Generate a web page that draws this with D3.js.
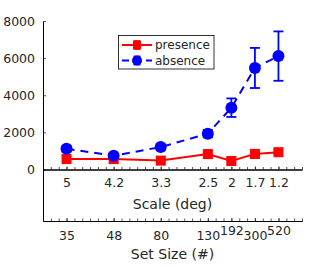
<!DOCTYPE html>
<html>
<head>
<meta charset="utf-8">
<script src="https://cdn.jsdelivr.net/npm/d3@7"></script>
<style>
  body { margin: 0; background: #fff; }
  text { font-family: "DejaVu Sans", sans-serif; fill: #262626; }
</style>
</head>
<body>
<svg id="chart" width="334" height="267"></svg>
<script>
    // data
    const xPos = [1, 2, 3, 4, 4.5, 5, 5.5];
    const scaleLabels = ["5", "4.2", "3.3", "2.5", "2", "1.7", "1.2"];
    const setSizeLabels = ["35", "48", "80", "130", "192", "300", "520"];
    const presence = [560, 560, 480, 830, 460, 840, 930];
    const presenceErr = [80, 80, 80, 100, 80, 100, 100];
    const absence = [1120, 740, 1210, 1930, 3330, 5470, 6110];
    const absenceErr = [150, 120, 150, 200, 500, 1080, 1330];
    const yTicks = [0, 2000, 4000, 6000, 8000];

    const svg = d3.select("#chart");
    const plotLeft = 43, plotRight = 302, plotTop = 21, zeroY = 169.5, bottomY = 221;

    const x = d3.scaleLinear().domain([0.5, 6]).range([plotLeft, plotRight]);
    // y axis continues down to the second (set size) axis
    const yLow = -8000 * (bottomY - zeroY) / (zeroY - plotTop);
    const y = d3.scaleLinear().domain([yLow, 8000]).range([bottomY, plotTop]);

    const minor = d3.range(0, 34).map(k => 0.5 + k / 6);

    // y axis
    svg.append("g")
        .attr("transform", "translate(" + plotLeft + ",0)")
        .call(d3.axisLeft(y).tickValues(yTicks).tickFormat(d3.format("d"))
            .tickSizeInner(-3).tickSizeOuter(0).tickPadding(8));

    // scale axis (at y = 0)
    svg.append("g")
        .attr("transform", "translate(0," + y(0) + ")")
        .call(d3.axisBottom(x).tickValues(minor).tickFormat("").tickSizeInner(-2.5).tickSizeOuter(0));
    svg.append("g")
        .attr("transform", "translate(0," + y(0) + ")")
        .call(d3.axisBottom(x).tickValues(xPos).tickFormat((d, i) => scaleLabels[i]).tickSizeInner(-3).tickSizeOuter(0).tickPadding(9));

    // set size axis
    svg.append("g")
        .attr("transform", "translate(0," + bottomY + ")")
        .call(d3.axisBottom(x).tickValues(minor).tickFormat("").tickSizeInner(-2.5).tickSizeOuter(0));
    const sizeAxis = svg.append("g")
        .attr("transform", "translate(0," + bottomY + ")")
        .call(d3.axisBottom(x).tickValues(xPos).tickFormat((d, i) => setSizeLabels[i]).tickSizeInner(-3).tickSizeOuter(0).tickPadding(10));
    sizeAxis.selectAll(".tick text")
        .attr("transform", (d, i) => (i == 4 || i == 6) ? "translate(0,-5)" : null);

    svg.selectAll(".domain").attr("stroke", "#000").attr("stroke-width", 1);
    svg.selectAll(".tick line").attr("stroke", "#262626").attr("stroke-width", 0.8);
    svg.selectAll(".tick text").style("font-size", "12.5px").attr("fill", "#262626");

    // axis titles
    svg.append("text").attr("x", (plotLeft + plotRight) / 2).attr("y", 209)
        .attr("text-anchor", "middle").style("font-size", "14px").text("Scale (deg)");
    svg.append("text").attr("x", (plotLeft + plotRight) / 2).attr("y", 259)
        .attr("text-anchor", "middle").style("font-size", "14px").text("Set Size (#)");

    const line = d3.line().x(d => x(d[0])).y(d => y(d[1]));

    function drawSeries(vals, errs, color, dashed, marker, cap) {
        const pts = xPos.map((d, i) => [d, vals[i], errs[i]]);
        const g = svg.append("g");
        g.append("path").datum(pts)
            .attr("d", line)
            .attr("fill", "none")
            .attr("stroke", color)
            .attr("stroke-width", 2)
            .attr("stroke-dasharray", dashed ? "8,6" : null);
        const eb = g.selectAll(".eb").data(pts).join("g").attr("stroke", color).attr("stroke-width", 1.8);
        eb.append("line")
            .attr("x1", d => x(d[0])).attr("x2", d => x(d[0]))
            .attr("y1", d => y(d[1] - d[2])).attr("y2", d => y(d[1] + d[2]));
        eb.append("line")
            .attr("x1", d => x(d[0]) - cap).attr("x2", d => x(d[0]) + cap)
            .attr("y1", d => y(d[1] + d[2])).attr("y2", d => y(d[1] + d[2]));
        eb.append("line")
            .attr("x1", d => x(d[0]) - cap).attr("x2", d => x(d[0]) + cap)
            .attr("y1", d => y(d[1] - d[2])).attr("y2", d => y(d[1] - d[2]));
        if (marker == "square") {
            g.selectAll(".m").data(pts).join("rect")
                .attr("x", d => x(d[0]) - 4.5).attr("y", d => y(d[1]) - 4.5)
                .attr("width", 9).attr("height", 9)
                .attr("fill", color).attr("stroke", color).attr("stroke-width", 1);
        } else {
            g.selectAll(".m").data(pts).join("circle")
                .attr("cx", d => x(d[0])).attr("cy", d => y(d[1]))
                .attr("r", 6).attr("fill", color);
        }
    }

    drawSeries(presence, presenceErr, "#ff0000", false, "square", 4);
    drawSeries(absence, absenceErr, "#0000ff", true, "circle", 5);

    // legend
    const lg = svg.append("g");
    lg.append("rect").attr("x", 118.5).attr("y", 35.5).attr("width", 95.5).attr("height", 33.5)
        .attr("fill", "#fff").attr("stroke", "#000").attr("stroke-width", 0.8);
    const entries = [
        { name: "presence", color: "#ff0000", dashed: false, marker: "square", y: 45 },
        { name: "absence", color: "#0000ff", dashed: true, marker: "circle", y: 60.5 }
    ];
    entries.forEach(e => {
        lg.append("line").attr("x1", 122).attr("x2", 152).attr("y1", e.y).attr("y2", e.y)
            .attr("stroke", e.color).attr("stroke-width", 2)
            .attr("stroke-dasharray", e.dashed ? "7,5" : null);
        lg.append("line").attr("x1", 137).attr("x2", 137).attr("y1", e.y - 4).attr("y2", e.y + 4)
            .attr("stroke", e.color).attr("stroke-width", 1.8);
        [-4, 4].forEach(o => lg.append("line").attr("x1", 133.5).attr("x2", 140.5)
            .attr("y1", e.y + o).attr("y2", e.y + o).attr("stroke", e.color).attr("stroke-width", 1.8));
        if (e.marker == "square") {
            lg.append("rect").attr("x", 133).attr("y", e.y - 4).attr("width", 8).attr("height", 8).attr("fill", e.color);
        } else {
            lg.append("circle").attr("cx", 137).attr("cy", e.y).attr("r", 5).attr("fill", e.color);
        }
        lg.append("text").attr("x", 155).attr("y", e.y + 4).style("font-size", "12px").text(e.name);
    });
</script>
</body>
</html>
